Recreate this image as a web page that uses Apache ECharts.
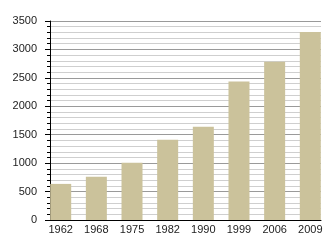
<!DOCTYPE html>
<html>
<head>
<meta charset="utf-8">
<script src="https://cdn.jsdelivr.net/npm/echarts@6/dist/echarts.min.js"></script>
<style>html,body{margin:0;padding:0;background:#fff}#c{width:330px;height:250px}</style>
</head>
<body>
<div id="c"></div>
<script>
var years = ['1962', '1968', '1975', '1982', '1990', '1999', '2006', '2009'];
var values = [635, 762, 1005, 1410, 1640, 2435, 2785, 3305];
var yTicks = [0, 500, 1000, 1500, 2000, 2500, 3000, 3500];

var chart = echarts.init(document.getElementById('c'), null, {renderer: 'canvas'});
var font = 'Liberation Sans, Arial, Helvetica, sans-serif';
chart.setOption({
  animation: false,
  backgroundColor: '#ffffff',
  grid: {left: 50, top: 21, right: 9, bottom: 30, containLabel: false},
  xAxis: {
    type: 'value',
    min: -0.3,
    max: 7.3,
    axisLine: {show: true, onZero: false, lineStyle: {color: '#000', width: 1}},
    axisTick: {show: false},
    splitLine: {show: false},
    axisLabel: {
      customValues: years.map(function (y, i) { return i; }),
      formatter: function (v) { return years[Math.round(v)]; },
      color: '#222', fontFamily: font, fontSize: 11, margin: 4
    }
  },
  yAxis: {
    type: 'value',
    min: 0,
    max: 3500,
    interval: 500,
    axisLine: {show: true, onZero: false, lineStyle: {color: '#000', width: 1}},
    axisTick: {show: true, length: 5, lineStyle: {color: '#000'}},
    minorTick: {show: true, splitNumber: 5, length: 3, lineStyle: {color: '#000'}},
    splitLine: {show: true, lineStyle: {color: '#9a9a9a', width: 1}},
    minorSplitLine: {show: true, lineStyle: {color: '#cfcfcf', width: 1}},
    axisLabel: {
      customValues: yTicks,
      formatter: function (v) { return String(v); },
      color: '#222', fontFamily: font, fontSize: 11, margin: 13
    }
  },
  series: [{
    type: 'bar',
    data: values.map(function (v, i) { return [i, v]; }),
    barWidth: 21,
    itemStyle: {color: '#cbc29b'}
  }]
});
</script>
</body>
</html>
